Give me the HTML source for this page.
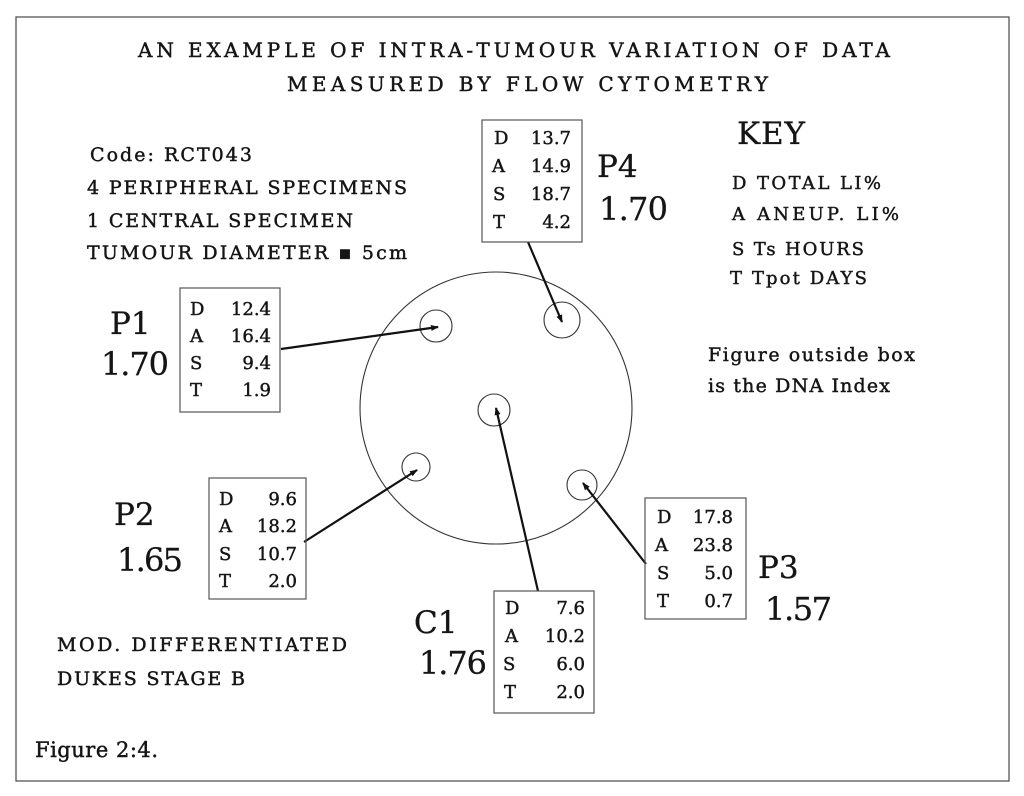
<!DOCTYPE html>
<html><head><meta charset="utf-8"><style>
html,body{margin:0;padding:0;background:#fff;}
svg{display:block;}
text{font-family:"DejaVu Serif","Liberation Serif",serif;fill:#151515;stroke:#151515;stroke-width:0.45;}
.big{stroke-width:0.3;}
</style></head><body>
<svg width="1024" height="796" viewBox="0 0 1024 796" xmlns="http://www.w3.org/2000/svg">
<defs>
<marker id="ah" markerWidth="8" markerHeight="8" refX="7" refY="4" orient="auto" markerUnits="userSpaceOnUse">
<path d="M0,1 L8,4 L0,7 Z" fill="#111"/>
</marker>
</defs>
<rect x="0" y="0" width="1024" height="796" fill="#fff"/>
<rect x="16" y="17" width="993" height="764" fill="none" stroke="#555" stroke-width="1.3"/>

<!-- Title -->
<text x="138" y="57" font-size="20" textLength="752">AN EXAMPLE OF INTRA-TUMOUR VARIATION OF DATA</text>
<text x="287" y="91" font-size="20" textLength="481">MEASURED BY FLOW CYTOMETRY</text>

<!-- Left info -->
<text x="90" y="161" font-size="19" textLength="162">Code: RCT043</text>
<text x="87" y="194" font-size="19" textLength="320">4 PERIPHERAL SPECIMENS</text>
<text x="87" y="227" font-size="19" textLength="266">1 CENTRAL SPECIMEN</text>
<text x="87" y="259" font-size="19" textLength="320">TUMOUR DIAMETER ▪ 5cm</text>

<!-- Key -->
<text class="big" x="737" y="144" font-size="31" textLength="68">KEY</text>
<text x="732" y="189" font-size="18" textLength="149">D TOTAL LI%</text>
<text x="732" y="220" font-size="18" textLength="167">A ANEUP. LI%</text>
<text x="732" y="255" font-size="18" textLength="132">S Ts HOURS</text>
<text x="730" y="284" font-size="18" textLength="137">T Tpot DAYS</text>

<text x="708" y="361" font-size="19" textLength="207">Figure outside box</text>
<text x="708" y="392" font-size="19" textLength="182">is the DNA Index</text>

<!-- Big circle -->
<circle cx="496" cy="408" r="136" fill="none" stroke="#333" stroke-width="1.1"/>
<!-- small circles -->
<circle cx="436" cy="326" r="16" fill="none" stroke="#333" stroke-width="1.1"/>
<circle cx="416" cy="467" r="14" fill="none" stroke="#333" stroke-width="1.1"/>
<circle cx="494" cy="410" r="16" fill="none" stroke="#333" stroke-width="1.1"/>
<circle cx="582" cy="485" r="15" fill="none" stroke="#333" stroke-width="1.1"/>
<circle cx="562" cy="320" r="18" fill="none" stroke="#333" stroke-width="1.1"/>

<!-- connectors -->
<g stroke="#111" stroke-width="2.2" fill="none">
<line x1="281" y1="349" x2="438" y2="327" marker-end="url(#ah)"/>
<line x1="304" y1="542" x2="417" y2="470" marker-end="url(#ah)"/>
<line x1="538" y1="591" x2="496" y2="408" marker-end="url(#ah)"/>
<line x1="646" y1="564" x2="583" y2="483" marker-end="url(#ah)"/>
<line x1="528" y1="242" x2="562" y2="322" marker-end="url(#ah)"/>
</g>

<!-- boxes -->
<g fill="none" stroke="#555" stroke-width="1.2">
<rect x="482" y="120" width="100" height="122"/>
<rect x="180" y="288" width="100" height="124"/>
<rect x="209" y="478" width="97" height="121"/>
<rect x="494" y="591" width="100" height="122"/>
<rect x="645" y="498" width="101" height="121"/>
</g>

<!-- P4 box -->
<g font-size="18">
<text x="494" y="144">D</text><text x="571" y="144" text-anchor="end">13.7</text>
<text x="492" y="172">A</text><text x="571" y="172" text-anchor="end">14.9</text>
<text x="493" y="200">S</text><text x="571" y="200" text-anchor="end">18.7</text>
<text x="493" y="228">T</text><text x="571" y="228" text-anchor="end">4.2</text>
</g>
<text class="big" x="597" y="177" font-size="31">P4</text>
<text class="big" x="599" y="220" font-size="32" textLength="69">1.70</text>

<!-- P1 box -->
<g font-size="18">
<text x="190" y="315">D</text><text x="271" y="315" text-anchor="end">12.4</text>
<text x="190" y="342">A</text><text x="271" y="342" text-anchor="end">16.4</text>
<text x="190" y="369">S</text><text x="271" y="369" text-anchor="end">9.4</text>
<text x="190" y="396">T</text><text x="271" y="396" text-anchor="end">1.9</text>
</g>
<text class="big" x="110" y="334" font-size="31">P1</text>
<text class="big" x="101" y="375" font-size="32" textLength="68">1.70</text>

<!-- P2 box -->
<g font-size="18">
<text x="219" y="505">D</text><text x="297" y="505" text-anchor="end">9.6</text>
<text x="219" y="532">A</text><text x="297" y="532" text-anchor="end">18.2</text>
<text x="219" y="560">S</text><text x="297" y="560" text-anchor="end">10.7</text>
<text x="219" y="587">T</text><text x="297" y="587" text-anchor="end">2.0</text>
</g>
<text class="big" x="114" y="525" font-size="31">P2</text>
<text class="big" x="117" y="571" font-size="32" textLength="66">1.65</text>

<!-- C1 box -->
<g font-size="18">
<text x="505" y="614">D</text><text x="585" y="614" text-anchor="end">7.6</text>
<text x="505" y="642">A</text><text x="585" y="642" text-anchor="end">10.2</text>
<text x="503" y="670">S</text><text x="585" y="670" text-anchor="end">6.0</text>
<text x="504" y="698">T</text><text x="585" y="698" text-anchor="end">2.0</text>
</g>
<text class="big" x="414" y="633" font-size="31">C1</text>
<text class="big" x="419" y="674" font-size="32" textLength="68">1.76</text>

<!-- P3 box -->
<g font-size="18">
<text x="657" y="523">D</text><text x="733" y="523" text-anchor="end">17.8</text>
<text x="655" y="551">A</text><text x="733" y="551" text-anchor="end">23.8</text>
<text x="657" y="579">S</text><text x="733" y="579" text-anchor="end">5.0</text>
<text x="657" y="607">T</text><text x="733" y="607" text-anchor="end">0.7</text>
</g>
<text class="big" x="758" y="578" font-size="31">P3</text>
<text class="big" x="765" y="620" font-size="32" textLength="67">1.57</text>

<!-- bottom left -->
<text x="57" y="651" font-size="19" textLength="290">MOD. DIFFERENTIATED</text>
<text x="57" y="685" font-size="19" textLength="188">DUKES STAGE B</text>
<text x="35" y="757" font-size="21" textLength="123">Figure 2:4.</text>
</svg>
</body></html>
